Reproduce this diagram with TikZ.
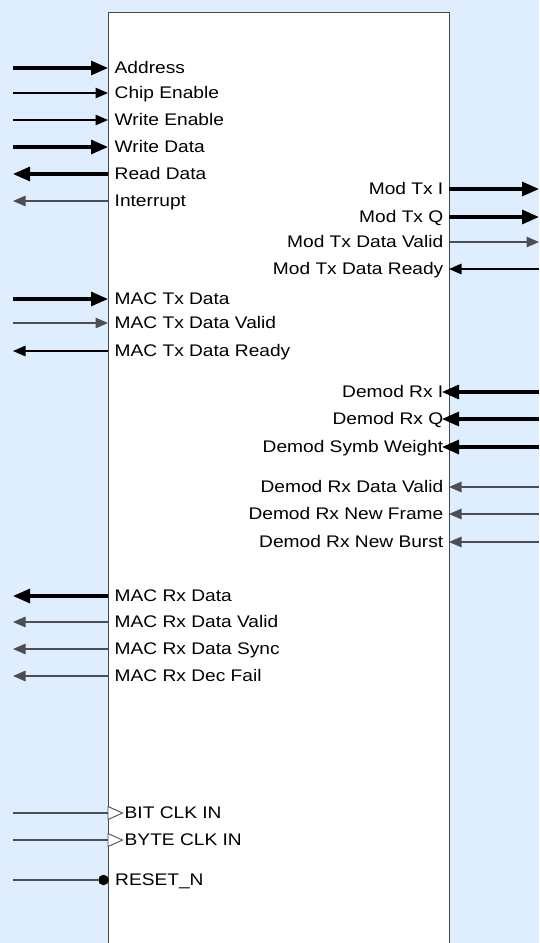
\documentclass[tikz,border=0pt]{standalone}
\usepackage{fontspec}
\setmainfont{Liberation Sans}[FakeStretch=1.14]
\usetikzlibrary{arrows.meta}
\definecolor{bgblue}{RGB}{222,238,255}
\definecolor{boxline}{RGB}{70,74,80}
\definecolor{sgrey}{RGB}{75,78,82}
\tikzset{
  lbl/.style={inner sep=0pt, font=\fontsize{16.8}{19}\selectfont},
  lblL/.style={lbl, anchor=base west},
  lblR/.style={lbl, anchor=base east},
  bus/.style={line width=3.1pt, black},
  sig/.style={line width=1.3pt},
  bustip/.tip={Triangle[length=17pt,width=14pt]},
  sigtip/.tip={Triangle[length=12.5pt,width=10.5pt]},
  busin/.style={bus, -bustip},
  busout/.style={bus, bustip-},
  sigin/.style={sig, -sigtip},
  sigout/.style={sig, sigtip-},
}
\begin{document}
\begin{tikzpicture}[x=1pt,y=-1pt]
\useasboundingbox (0,0) rectangle (539,943);
\clip (0,0) rectangle (539,943);
\fill[bgblue] (0,0) rectangle (539,943);
\node[draw=boxline, line width=1.4pt, fill=white, anchor=north west, inner sep=0pt,
      minimum width=341pt, minimum height=960pt] (blk) at (108,11.5) {};
% left side signals: y / text / style / colour
\foreach \y/\t/\s/\c in {
  68/Address/busin/black,
  93/Chip Enable/sigin/black,
  120/Write Enable/sigin/black,
  147/Write Data/busin/black,
  174/Read Data/busout/black,
  201/Interrupt/sigout/sgrey,
  299/MAC Tx Data/busin/black,
  323/MAC Tx Data Valid/sigin/sgrey,
  351/MAC Tx Data Ready/sigout/black,
  596/MAC Rx Data/busout/black,
  622/MAC Rx Data Valid/sigout/sgrey,
  649/MAC Rx Data Sync/sigout/sgrey,
  676/MAC Rx Dec Fail/sigout/sgrey}{
  \node[lblL] (tL\y) at (114.5,\y+5.9) {\t};
  \coordinate (eL\y) at (13,\y);
  \coordinate (pL\y) at (108,\y);
  \draw[\s, draw=\c] (eL\y) -- (pL\y);
}
% right side signals: y / text / style / colour / pin x
\foreach \y/\t/\s/\c/\px in {
  189/Mod Tx I/busout/black/449,
  217/Mod Tx Q/busout/black/449,
  242/Mod Tx Data Valid/sigout/sgrey/449,
  269/Mod Tx Data Ready/sigin/black/449,
  392/Demod Rx I/busin/black/442,
  419/Demod Rx Q/busin/black/442,
  447/Demod Symb Weight/busin/black/442,
  487/Demod Rx Data Valid/sigin/sgrey/449,
  514/Demod Rx New Frame/sigin/sgrey/449,
  542/Demod Rx New Burst/sigin/sgrey/449}{
  \node[lblR] (tR\y) at (443.5,\y+5.9) {\t};
  \coordinate (eR\y) at (539,\y);
  \coordinate (pR\y) at (\px,\y);
  \draw[\s, draw=\c] (eR\y) -- (pR\y);
}
% clock inputs
\foreach \y/\t in {813/BIT CLK IN, 840/BYTE CLK IN}{
  \node[lblL] (tC\y) at (124.5,\y+5.9) {\t};
  \coordinate (eC\y) at (13,\y);
  \coordinate (pC\y) at (108,\y);
  \draw[sig, draw=sgrey] (eC\y) -- (pC\y);
  \draw[line width=0.9pt, draw=sgrey, fill=white, line join=miter]
    (108,\y-6.5) -- (122.5,\y) -- (108,\y+6.5) -- cycle;
}
% reset
\node[lblL] (tRst) at (115,880+5.9) {RESET\_N};
\node[circle, fill=black, inner sep=0pt, minimum size=10.5pt] (rdot) at (103.5,880) {};
\coordinate (eRst) at (13,880);
\draw[sig, draw=sgrey] (eRst) -- (rdot.west);
\end{tikzpicture}
\end{document}
